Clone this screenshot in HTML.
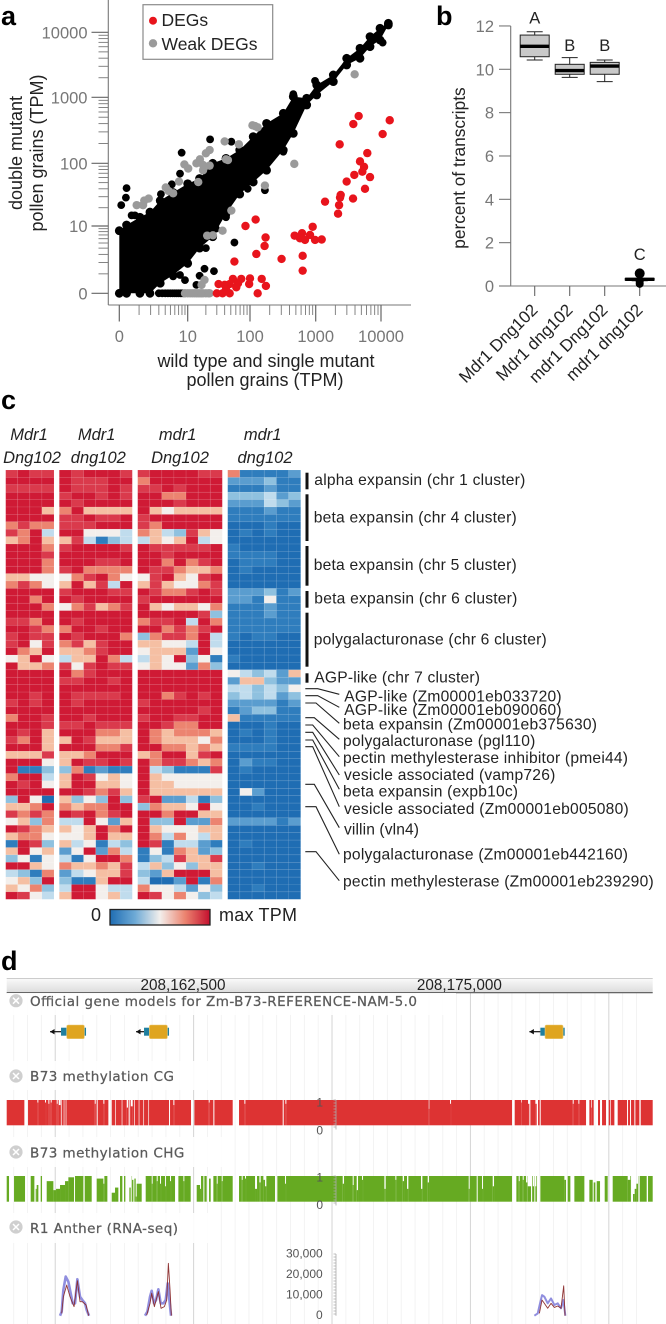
<!DOCTYPE html>
<html lang="en">
<head>
<meta charset="utf-8">
<title>Pollen transcriptome figure</title>
<style>
html,body{margin:0;padding:0;background:#fff;width:666px;height:1324px;overflow:hidden}
svg{display:block;filter:blur(0.35px)}
text{font-family:"Liberation Sans",Arial,sans-serif}
.tick{fill:#777;font-size:16.5px}
.title{fill:#222;font-size:18px}
.title-b{fill:#222;font-size:17.3px}
.panel{fill:#000;font-size:27px;font-weight:bold}
.head{fill:#222;font-size:16.5px;font-style:italic;text-anchor:middle}
.ann{fill:#222;font-size:15.6px}
.leader{fill:none;stroke:#222;stroke-width:1.1}
.track{font-family:"DejaVu Sans","Liberation Sans",sans-serif;fill:#5a5a5a;font-size:13.5px;stroke:#5a5a5a;stroke-width:.25}
.scale{fill:#555;font-size:12px;text-anchor:end}
</style>
</head>
<body>
<svg id="fig" xmlns="http://www.w3.org/2000/svg" width="666" height="1324" viewBox="0 0 666 1324">
  <rect width="666" height="1324" fill="#fff"/>
  <text class="panel" x="1" y="25">a</text>
  <text class="panel" x="436" y="25">b</text>
  <text class="panel" x="1" y="409">c</text>
  <text class="panel" x="1" y="970">d</text>

  <g id="scatter"></g>
  <text class="title" transform="translate(22 153) rotate(-90)" text-anchor="middle">double mutant</text>
  <text class="title" transform="translate(43 153) rotate(-90)" text-anchor="middle">pollen grains (TPM)</text>
  <text class="title" x="266" y="367" text-anchor="middle">wild type and single mutant</text>
  <text class="title" x="265" y="386" text-anchor="middle">pollen grains (TPM)</text>
  <g>
    <rect x="143" y="4.7" width="129.7" height="54.6" fill="#fff" stroke="#8a8a8a" stroke-width="1.2"/>
    <circle cx="153" cy="20.7" r="4" fill="#e8141c"/>
    <text x="161.5" y="26" font-size="17.5" fill="#222">DEGs</text>
    <circle cx="153" cy="43.3" r="4.2" fill="#9a9a9a"/>
    <text x="161.5" y="50" font-size="17.5" fill="#222">Weak DEGs</text>
  </g>

  <g id="box"></g>
  <text class="title-b" transform="translate(465 168) rotate(-90)" text-anchor="middle">percent of transcripts</text>

  <g>
    <text class="head" x="29" y="440">Mdr1</text>
    <text class="head" x="32" y="463">Dng102</text>
    <text class="head" x="96.7" y="440">Mdr1</text>
    <text class="head" x="98.3" y="463">dng102</text>
    <text class="head" x="177.7" y="440">mdr1</text>
    <text class="head" x="180" y="463">Dng102</text>
    <text class="head" x="262.7" y="440">mdr1</text>
    <text class="head" x="265" y="463">dng102</text>
  </g>
  <g id="heat"></g>

  <defs>
    <linearGradient id="cbar" x1="0" x2="1" y1="0" y2="0">
      <stop offset="0" stop-color="#1f6db3"/><stop offset=".25" stop-color="#6eaad6"/>
      <stop offset=".5" stop-color="#f3efec"/><stop offset=".75" stop-color="#ec8470"/>
      <stop offset="1" stop-color="#c40f2e"/>
    </linearGradient>
    <linearGradient id="ruler" x1="0" x2="0" y1="0" y2="1">
      <stop offset="0" stop-color="#fafafa"/><stop offset="1" stop-color="#dcdcdc"/>
    </linearGradient>
  </defs>
  <g>
    <text x="91" y="921" font-size="18" fill="#222">0</text>
    <rect x="110" y="909.5" width="100" height="15.5" fill="url(#cbar)" stroke="#222" stroke-width="1.3"/>
    <text x="219" y="921" font-size="18" fill="#222" textLength="78">max TPM</text>
  </g>

  <g fill="#111">
    <rect x="305.5" y="472.7" width="3" height="16.6"/>
    <rect x="305.5" y="494.3" width="3" height="46.7"/>
    <rect x="305.5" y="546" width="3" height="39.7"/>
    <rect x="305.5" y="591" width="3" height="16.7"/>
    <rect x="305.5" y="612.7" width="3" height="54"/>
    <rect x="305.5" y="673.3" width="3" height="9.4"/>
  </g>
  <g>
    <text class="ann" x="314.3" y="485" textLength="211">alpha expansin (chr 1 cluster)</text>
    <text class="ann" x="313.7" y="522.3" textLength="203">beta expansin (chr 4 cluster)</text>
    <text class="ann" x="313.7" y="570" textLength="203">beta expansin (chr 5 cluster)</text>
    <text class="ann" x="314.3" y="603.7" textLength="203">beta expansin (chr 6 cluster)</text>
    <text class="ann" x="313.7" y="644.3" textLength="233">polygalacturonase (chr 6 cluster)</text>
    <text class="ann" x="314.3" y="682.3" textLength="165.7">AGP-like (chr 7 cluster)</text>
    <text class="ann" x="344.3" y="701.3" textLength="217.3">AGP-like (Zm00001eb033720)</text>
    <text class="ann" x="344.3" y="715" textLength="217.3">AGP-like (Zm00001eb090060)</text>
    <text class="ann" x="343" y="729.3" textLength="254">beta expansin (Zm00001eb375630)</text>
    <text class="ann" x="343" y="746" textLength="192.3">polygalacturonase (pgl110)</text>
    <text class="ann" x="343" y="763" textLength="285">pectin methylesterase inhibitor (pmei44)</text>
    <text class="ann" x="344" y="780" textLength="211.3">vesicle associated (vamp726)</text>
    <text class="ann" x="343" y="796.7" textLength="175">beta expansin (expb10c)</text>
    <text class="ann" x="344" y="814" textLength="284.7">vesicle associated (Zm00001eb005080)</text>
    <text class="ann" x="344" y="834.3" textLength="75">villin (vln4)</text>
    <text class="ann" x="343" y="859.7" textLength="285">polygalacturonase (Zm00001eb442160)</text>
    <text class="ann" x="343" y="886.7" textLength="310.7">pectin methylesterase (Zm00001eb239290)</text>
  </g>
  <g>
    <polyline class="leader" points="305.3,688.7 317.7,688.7 339.3,694.3"/>
    <polyline class="leader" points="305.3,695.7 317.7,695.7 339.3,707.3"/>
    <polyline class="leader" points="305.3,703 316,703 339.3,723.3"/>
    <polyline class="leader" points="305.3,717.7 314.3,717.7 339.3,739.3"/>
    <polyline class="leader" points="305.3,725 312.7,725 339.3,756.7"/>
    <polyline class="leader" points="305.3,732.3 312.7,732.3 339.3,775"/>
    <polyline class="leader" points="305.3,740 312.7,740 339.3,789.3"/>
    <polyline class="leader" points="305.3,746.7 312.7,746.7 339.3,806.7"/>
    <polyline class="leader" points="305.3,784.3 314.3,784.3 339.3,827.7"/>
    <polyline class="leader" points="305.3,806.7 316,806.7 339.3,854.3"/>
    <polyline class="leader" points="305.3,851.7 316,851.7 339.3,880.7"/>
  </g>

  <g id="browser"></g>
</svg>

<script>
/* ---------- panel a: scatter data (TPM) ---------- */
var cloudX    = [0,0.29,1.06,1.93,3.2,5.6,10,15.8,25.8,42,69,112,179,322,457,730,1036,1862,2980,4770,6790,9660,12950];
var cloudHigh = [8.3,10.4,14,17,26,35,48,58,100,119,159,254,404,573,1024,966,1549,2208,3981,5675,8570,11530,13740];
var cloudLow  = [0,0,0,0,0.43,0.92,1.9,4,6.5,16,33,51,78,159,285,765,1086,1742,3141,3981,6012,7620,12970];
var blackX = [23.4,51,7.9,0.29,0.26,0.07,0.54,0.73,92,169,57,19,27,15.8,5.6,7.4,9,14,42,29,20,10600,322,457,977,7.4,3.3,5.3,3,3.5,4,4.5,5,5.5,6,6.5,7,7.5,8,8.5,9];
var blackY = [231,213,145,41,29,22,15,15,40,38,5.1,1.4,1.2,0.87,0.83,0.92,0.6,0.35,14,9,4,6930,150,1120,1790,69,33,47,0,0,0,0,0,0,0,0,0,0,0,0,0];
var greyX = [3950,473,169,119,131,109,67,40,42,45,23,20,16,14,18,23,18,8.8,10.2,7.1,15,4.1,4.6,5.6,0.84,1.3,1.4,1.8,51,37,26,21,17,19,9,10,11,12,13,14,15,16,17,18,20,22,23];
var greyY = [2260,98,45,368,351,377,194,215,115,112,159,142,115,100,94,92,78,96,83,52,51,42,37,34,22,22,26,28,18,8.3,6.9,6.8,0.35,0.61,0,0,0,0,0,0,0,0,0,0,0,0,0];
var redX = [13600,10600,4550,3770,2330,6170,4770,5500,5180,3900,6790,2980,2415,2360,2280,5690,3730,1390,2200,900,479,620,820,577,688,977,1236,634,634,303,122,85,173,167,125,57,151,175,131,100,97,73,54,65,61,48,40,32,30,37,48,42];
var redY = [450,278,521,394,194,143,107,88,74,66,61,52,32,29,22,40,28,25,16,9.7,6.8,7.5,7,6.1,5.7,5.7,5.8,2.8,1.24,2.4,12.8,10,6.3,4.4,3.06,2.1,0.67,0.3,0,0.7,0.39,0.67,0.67,0.43,0.24,0.39,0.35,0.39,0,0,0,0.15];
var scatterTicks = [0,10,100,1000,10000];
var scatterTickLabels = ["0","10","100","1000","10000"];
var scatterMinorTicks = [1,2,3,4,5,6,7,8,9,20,30,40,50,60,70,80,90,200,300,400,500,600,700,800,900,2000,3000,4000,5000,6000,7000,8000,9000];

/* ---------- panel b: box plot data (percent) ---------- */
var boxCategories = ["Mdr1 Dng102","Mdr1 dng102","mdr1 Dng102","mdr1 dng102"];
var boxLetters = ["A","B","B","C"];
var boxLetterLevel = [12.12,10.84,10.84,1.2];
var boxHi  = [11.73,10.54,10.43,0.33];
var boxQ3  = [11.58,10.23,10.32,0.35];
var boxMed = [11.06,9.94,10.15,0.31];
var boxQ1  = [10.58,9.77,9.77,0.27];
var boxLo  = [10.43,9.63,9.43,0.24];
var boxOutlierGroup = [3,3,3];
var boxOutlierValue = [0.58,0.2,0.1];
var boxTicks = [0,2,4,6,8,10,12];

/* ---------- panel c: heatmap data (0 = low, 9 = max TPM) ---------- */
var heatGroup1 = ["8988","9999","8888","9999","9999","9996","9999","7877","8794","6796","9997","9998","9997","9997","6655","7875","9999","9979","9997","9999","8879","9987","8988","8958","9769","5695","9667","9999","9999","9999","9989","8989","9999","7998","9998","9896","8796","9996","6668","9995","9113","7994","9895","9999","3950","6679","8787","5637","9876","6775","1983","6956","3515","9965","4317","5639","6573","9854"];
var heatGroup2 = ["989998","988899","988898","899898","989999","796666","889889","888999","995554","684134","899998","999999","999889","897777","578975","696849","899988","989999","578678","999999","989999","799899","989997","786899","667899","466974","858988","978999","889989","999999","988889","989999","999999","998999","889888","999776","698666","999778","667999","698898","371211","698565","699665","998786","635393","767799","989789","449526","656979","556966","645143","259274","415997","766768","245668","311699","499544","699564"];
var heatGroup3 = ["8999988","7999999","8898999","9977999","9998999","9656666","8999999","8799999","7643865","4656945","9888889","9989999","9979789","9887667","5896589","6865578","9877898","8999999","9656657","9999983","7889497","9978789","3788794","6655494","5666295","4659351","5655273","9999999","9999999","9999999","9978989","8999999","9999989","8998899","9987799","9767776","9766657","9977676","6799689","9788767","9431118","9655555","9665555","9666666","8922413","3766595","9979966","9339227","9655566","9747546","9814421","1517623","1348668","4635366","3269996","4002917","7554253","9857534"];
var heatGroup4 = ["711112","222311","111211","333423","222432","111211","111111","000100","010100","000000","100000","111100","011100","010000","000000","000000","222312","221511","111211","111211","111111","111111","101100","000000","000000","100000","000000","543426","266322","443435","343423","222212","123311","611111","000100","010100","000100","111100","000000","021100","010000","000000","000000","052000","000000","001000","000000","222212","000000","000000","010000","000000","000000","001000","000000","000000","001000","000000"];
var heatPalette = ["#1f6db3","#2f7dbd","#5a9dcf","#8fc1df","#c0dced","#f3efec","#f5bfa3","#ec8470","#da3a4c","#cf1a35"];

/* ---------- panel d: genome browser data (positions in 15-bp bins from track start) ---------- */
var rulerBins = [529,1358];
var rulerLabels = ["208,162,500","208,175,000"];
var geneArrowStart = [130,388,1568];
var geneTeal5 = [163,412,1601];
var geneGoldStart = [180,428,1615];
var geneGoldEnd = [233,482,1669];
var geneTeal3 = [238,487,1674];

var cgStart = [53,92,115,125,132,150,156,164,171,177,264,270,290,305,325,345,360,366,372,382,396,410,425,487,500,553,606,620,678,713,828,836,1266,1330,1516,1543,1564,1568,1586,1590,1599,1698,1715,1738,1753,1761,1780,1798,1810,1823,1861,1870,1883,1898];
var cgWidth = [11,3,3,3,3,3,6,2,2,2,3,3,3,10,2,2,4,3,6,2,2,2,2,3,3,10,3,3,19,3,3,3,2,3,8,2,4,3,4,4,3,3,3,10,2,13,6,8,2,10,3,3,3,4];
var cgLevel = [0,.9,.9,.85,.9,.85,.8,0,0,0,.85,0,.85,0,0,0,.7,0,.75,0,0,0,0,0,.8,0,.9,0,0,.85,0,.85,.65,.85,0,.9,.85,0,.85,0,0,.85,.85,0,.7,0,0,0,0,0,0,0,0,0];

var chgStart = [7,55,83,87,90,95,106,120,140,148,160,175,185,202,230,255,270,290,302,315,325,335,347,356,368,372,376,380,383,387,390,405,435,450,460,475,490,505,530,552,570,580,590,600,607,612,630,645,678,705,715,745,758,770,775,805,835,1008,1038,1050,1066,1133,1166,1188,1201,1243,1263,1386,1410,1426,1458,1516,1536,1548,1558,1563,1573,1578,1583,1586,1591,1673,1678,1691,1733,1748,1758,1761,1766,1770,1780,1803,1863,1873,1879,1884,1889,1895,1920];
var chgWidth = [15,17,4,3,5,7,14,20,8,12,15,10,17,3,4,15,20,3,13,10,10,5,5,12,4,3,4,3,4,3,15,12,3,3,3,3,3,10,3,18,10,3,3,7,5,8,3,3,19,3,3,6,4,5,4,7,3,4,3,4,3,4,3,4,4,4,4,3,3,3,4,13,3,3,4,10,3,4,3,3,10,5,5,12,15,10,3,5,4,10,14,15,8,6,5,5,5,4,4];
var chgLevel = [0,0,0,.5,.65,0,0,.8,.45,.5,.65,.8,.95,0,0,0,.9,.7,0,.35,.55,0,0,0,.55,0,.85,0,.9,.2,.7,0,.7,.8,.7,.6,.8,0,.8,0,.65,.5,0,0,.9,0,.7,.8,0,.85,.9,.5,.75,.85,.6,0,.7,.7,.65,.45,.85,.5,.85,.8,.5,.5,.75,.5,0,.5,.6,0,.8,.85,.75,.6,0,.6,0,.6,0,.85,0,0,0,.85,0,.75,0,.8,0,0,.85,0,.3,.5,.7,0,0];

var rnaTicks = [0,10000,20000,30000];
var rnaTickLabels = ["0","10,000","20,000","30,000"];
var blue1Bins = [160,165,170,177,185,192,198,205,212,220,227,235,240,247];
var blue1Vals = [0,1950,12500,19000,16500,10900,6000,6000,17700,9200,7600,6000,2750,0];
var blue2Bins = [415,422,430,435,442,448,455,462,470,477,483,488,493];
var blue2Vals = [0,1950,9200,12100,6000,7600,12800,6000,6000,7600,15700,7600,0];
var blue3Bins = [1583,1593,1600,1606,1613,1623,1633,1643,1653,1663,1670,1676];
var blue3Vals = [0,1100,6000,10000,9200,6000,8400,5200,6000,3600,7600,0];
var red1Bins = [165,170,180,190,202,212,220,227,238,246];
var red1Vals = [1134,9200,14850,9200,4400,17000,6800,6800,5200,0];
var red2Bins = [420,430,435,443,455,463,473,480,485,490,494];
var red2Vals = [300,6000,10900,4400,11700,3600,4400,7600,25400,12500,0];
var red3Bins = [1598,1606,1613,1623,1633,1643,1653,1663,1671,1675];
var red3Vals = [1134,7600,6000,3600,6000,4000,4700,3600,14500,0];

/* ---------- helpers ---------- */
var NS = "http://www.w3.org/2000/svg";
function mk(parent, tag, attrs, txt) {
  var el = document.createElementNS(NS, tag);
  for (var k in attrs) el.setAttribute(k, attrs[k]);
  if (txt !== undefined) el.textContent = txt;
  parent.appendChild(el);
  return el;
}

/* axis functions for panel a: piecewise pseudo-log */
var xStops = [119.3,187.7,250,315.7,381];
var yStops = [293.3,226,163.3,97.3,32.3];
function pseudoLog(v, stops) {
  var t = Math.log10(Math.max(v,0) + 1);
  for (var i = 0; i < scatterTicks.length - 1; i++) {
    var a = Math.log10(scatterTicks[i] + 1), b = Math.log10(scatterTicks[i+1] + 1);
    if (t <= b || i === scatterTicks.length - 2) {
      return stops[i] + (t - a) / (b - a) * (stops[i+1] - stops[i]);
    }
  }
}
function sx(v) { return pseudoLog(v, xStops); }
function sy(v) { return pseudoLog(v, yStops); }

/* ---------- draw panel a ---------- */
(function () {
  var g = document.getElementById("scatter");
  var el, i;
  el = mk(g, "line", {x1:108.3,x2:108.3,y1:0,y2:305,stroke:"#777","stroke-width":1.1});
  
  
  el = mk(g, "line", {x1:108.3,x2:411,y1:305,y2:305,stroke:"#777","stroke-width":1.1});
  
  
  scatterMinorTicks.forEach(function (v) {
    var t = mk(g, "line", {x1:98.5,x2:108.3,y1:sy(v),y2:sy(v),stroke:"#777","stroke-width":0.9});
    
    
    var u = mk(g, "line", {x1:sx(v),x2:sx(v),y1:305,y2:315,stroke:"#777","stroke-width":0.9});
    
    
  });
  scatterTicks.forEach(function (v, k) {
    var t = mk(g, "line", {x1:91.5,x2:108.3,y1:sy(v),y2:sy(v),stroke:"#666","stroke-width":1.2});
    
    
    var u = mk(g, "line", {x1:sx(v),x2:sx(v),y1:305,y2:321.5,stroke:"#666","stroke-width":1.2});
    
    
    var a = mk(g, "text", {"class":"tick",x:87.5,y:sy(v)+6,"text-anchor":"end"}, scatterTickLabels[k]);
    
    
    var b = mk(g, "text", {"class":"tick",x:sx(v),y:342,"text-anchor":"middle"}, scatterTickLabels[k]);
    
    
  });
  var pts = [];
  for (i = 0; i < cloudX.length; i++) pts.push(sx(cloudX[i]) + "," + sy(cloudHigh[i]));
  for (i = cloudX.length - 1; i >= 0; i--) pts.push(sx(cloudX[i]) + "," + sy(cloudLow[i]));
  el = mk(g, "polygon", {points:pts.join(" "),fill:"#000"});
  
  
  for (i = 0; i < cloudX.length; i++) {
    var c1 = mk(g, "circle", {cx:sx(cloudX[i]),cy:sy(cloudHigh[i]),r:4.4,fill:"#000"});
    
    
    var c2 = mk(g, "circle", {cx:sx(cloudX[i]),cy:sy(cloudLow[i]),r:4.4,fill:"#000"});
    
    
  }
  blackX.forEach(function (v, k) {
    var c = mk(g, "circle", {cx:sx(v),cy:sy(blackY[k]),r:3.9,fill:"#000"});
    
    
  });
  greyX.forEach(function (v, k) {
    var c = mk(g, "circle", {cx:sx(v),cy:sy(greyY[k]),r:4.2,fill:"#9a9a9a"});
    
    
  });
  redX.forEach(function (v, k) {
    var c = mk(g, "circle", {cx:sx(v),cy:sy(redY[k]),r:4.2,fill:"#e8141c"});
    
    
  });
})();

/* ---------- draw panel b ---------- */
function by(v) { return 286 - v * 21.67; }
function bx(i) { return 534.7 + i * 35; }
(function () {
  var g = document.getElementById("box");
  var el;
  el = mk(g, "line", {x1:510.7,x2:510.7,y1:26,y2:286,stroke:"#777","stroke-width":1.1});
  
  
  el = mk(g, "line", {x1:499,x2:666,y1:286,y2:286,stroke:"#777","stroke-width":1.1});
  
  
  boxTicks.forEach(function (v) {
    var t = mk(g, "line", {x1:499,x2:510.7,y1:by(v),y2:by(v),stroke:"#777","stroke-width":1.1});
    
    
    var l = mk(g, "text", {"class":"tick",x:494,y:by(v)+6,"text-anchor":"end"}, String(v));
    
    
  });
  boxCategories.forEach(function (name, i) {
    var x = bx(i), w = 14.5;
    var t = mk(g, "line", {x1:x,x2:x,y1:286,y2:296,stroke:"#666","stroke-width":1.1});
    
    
    var l = mk(g, "text", {"font-size":17,fill:"#222","text-anchor":"end",
      transform:"translate(" + (x+4) + " 311) rotate(-45)"}, name);
    
    
    var wh = mk(g, "line", {x1:x,x2:x,y1:by(boxHi[i]),y2:by(boxLo[i]),stroke:"#222","stroke-width":1});
    
    
    var c1 = mk(g, "line", {x1:x-8,x2:x+8,y1:by(boxHi[i]),y2:by(boxHi[i]),stroke:"#222","stroke-width":1});
    
    
    var c2 = mk(g, "line", {x1:x-8,x2:x+8,y1:by(boxLo[i]),y2:by(boxLo[i]),stroke:"#222","stroke-width":1});
    
    
    var b = mk(g, "rect", {x:x-w,y:by(boxQ3[i]),width:2*w,height:by(boxQ1[i])-by(boxQ3[i]),fill:"#c9c9c9",stroke:"#222","stroke-width":1});
    
    
    var m = mk(g, "line", {x1:x-w,x2:x+w,y1:by(boxMed[i]),y2:by(boxMed[i]),stroke:"#000","stroke-width":3.4});
    
    
    var s = mk(g, "text", {x:x,y:by(boxLetterLevel[i]),"font-size":16.5,fill:"#222","text-anchor":"middle"}, boxLetters[i]);
    
    
  });
  boxOutlierValue.forEach(function (v, k) {
    var c = mk(g, "circle", {cx:bx(boxOutlierGroup[k]),cy:by(v),r:v > 0.4 ? 5 : 4,fill:"#000"});
    
    
  });
})();

/* ---------- draw panel c ---------- */
(function () {
  var g = document.getElementById("heat");
  var groups = [
    {rows:heatGroup1, x0:5.7,   x1:54},
    {rows:heatGroup2, x0:59.3,  x1:132.3},
    {rows:heatGroup3, x0:137.7, x1:222.3},
    {rows:heatGroup4, x0:227.7, x1:300.7}
  ];
  var top = 470, bottom = 899.3;
  groups.forEach(function (gr) {
    var n = gr.rows.length, rh = (bottom - top) / n;
    gr.rows.forEach(function (row, r) {
      var cw = (gr.x1 - gr.x0) / row.length;
      for (var c = 0; c < row.length; c++) {
        var el = mk(g, "rect", {x:gr.x0 + c*cw,y:top + r*rh,width:cw,height:rh,
          fill:heatPalette[+row.charAt(c)],stroke:"#fff","stroke-opacity":0.12,"stroke-width":0.6});
        
        
      }
    });
  });
})();

/* ---------- draw panel d ---------- */
function gx(bin) { return 6.7 + bin / 3; }
function ry(v) { return 1315.7 - v * 0.00206; }
(function () {
  var g = document.getElementById("browser");
  var el, i;
  /* grid */
  for (i = 0; i < 46; i++) {
    var x = 13.7 + i * 13.84;
    var major = (i % 10 === 3);
    el = mk(g, "line", {x1:x,x2:x,y1:992,y2:1324,stroke:major ? "#d4d4d4" : "#f2f2f2","stroke-width":major ? 1 : 0.9});
    
    
  }
  /* ruler */
  el = mk(g, "rect", {x:6.7,y:978.3,width:646,height:14.4,fill:"url(#ruler)"});
  
  
  el = mk(g, "line", {x1:6.7,x2:652.7,y1:978.5,y2:978.5,stroke:"#bbb","stroke-width":0.8});
  
  
  el = mk(g, "line", {x1:6.7,x2:652.7,y1:992.7,y2:992.7,stroke:"#555","stroke-width":1.1});
  
  
  rulerBins.forEach(function (b, k) {
    var t = mk(g, "text", {x:gx(b),y:990,"font-size":15.3,fill:"#222","text-anchor":"middle"}, rulerLabels[k]);
    
    
  });
  /* track labels */
  var boxes = [
    ["Official gene models for Zm-B73-REFERENCE-NAM-5.0",993,22,449.3,1006,387,1000.7],
    ["B73 methylation CG",1061,29,205.3,1081,144,1076],
    ["B73 methylation CHG",1137,30,215.3,1157.3,154.3,1152],
    ["R1 Anther (RNA-seq)",1213,30,210.3,1233,148,1227]
  ];
  boxes.forEach(function (b) {
    var r = mk(g, "rect", {x:6.7,y:b[1],width:b[3],height:b[2],fill:"#fff","fill-opacity":0.9});
    
    
    var c = mk(g, "circle", {cx:16,cy:b[6],r:6.6,fill:"#cfcfcf"});
    
    
    var p = mk(g, "path", {d:"M13 "+(b[6]-3)+"l6 6M19 "+(b[6]-3)+"l-6 6",stroke:"#fff","stroke-width":1.5,fill:"none"});
    
    
    var t = mk(g, "text", {"class":"track",x:30,y:b[4],textLength:b[5]}, b[0]);
    
    
  });
  /* gene models */
  geneGoldStart.forEach(function (s, k) {
    var a = mk(g, "path", {d:"M"+gx(geneArrowStart[k])+" 1031.7L"+gx(geneTeal5[k])+" 1031.7",stroke:"#111","stroke-width":1.2});
    
    
    var h = mk(g, "polygon", {points:gx(geneArrowStart[k])+",1031.7 "+(gx(geneArrowStart[k])+4.5)+",1029 "+(gx(geneArrowStart[k])+4.5)+",1034.4",fill:"#111"});
    
    
    var u = mk(g, "rect", {x:gx(geneTeal5[k]),y:1027.7,width:gx(s)-gx(geneTeal5[k]),height:8,fill:"#1f7f9f"});
    
    
    var e = mk(g, "rect", {x:gx(geneGoldEnd[k]),y:1027.7,width:gx(geneTeal3[k])-gx(geneGoldEnd[k]),height:8,fill:"#1f7f9f"});
    
    
    var r = mk(g, "rect", {x:gx(s),y:1025,width:gx(geneGoldEnd[k])-gx(s),height:13.7,rx:1.5,fill:"#dfa520",stroke:"#eccb78","stroke-width":0.6});
    
    
  });
  /* methylation tracks */
  function drawTrack(starts, widths, levels, y0, h, color, name) {
    var total = 1938, order = starts.map(function (_, k) { return k; }).sort(function (p, q) { return starts[p] - starts[q]; });
    var cur = 0;
    function bar(a, b, lv) {
      if (b <= a || lv <= 0) return;
      var r = mk(g, "rect", {x:gx(a),y:y0 + h*(1-lv),width:(b-a)/3,height:h*lv,fill:color});
      
      
    }
    order.forEach(function (k) {
      var s = Math.max(starts[k], cur), e = starts[k] + widths[k];
      if (starts[k] > cur) bar(cur, starts[k], 1);
      if (e > s) { bar(s, e, levels[k]); cur = e; }
    });
    bar(cur, total, 1);
  }
  drawTrack(cgStart, cgWidth, cgLevel, 1100, 25.3, "#dd3333", "cg-methylation-bar");
  drawTrack(chgStart, chgWidth, chgLevel, 1176, 25.7, "#66aa22", "chg-methylation-bar");
  /* scale axes */
  function scaleAxis(top, bot, name) {
    var d = "M336 "+top+"L336 "+bot;
    for (var y = top; y <= bot + 0.1; y += 3) d += "M333.5 "+y+"L336 "+y;
    var a = mk(g, "path", {d:d,stroke:"#aaa","stroke-width":0.8,fill:"none"});
    
    
  }
  scaleAxis(1100, 1129.5, 'cg-scale-axis');
  scaleAxis(1176, 1205.5, 'chg-scale-axis');
  scaleAxis(1254, 1315.7, 'rna-scale-axis');
  [["1",1106.7],["0",1134.3],["1",1181.7],["0",1209]].forEach(function (p) {
    var t = mk(g, "text", {"class":"scale",x:323,y:p[1]}, p[0]);
    
    
  });
  rnaTicks.forEach(function (v, k) {
    var t = mk(g, "text", {"class":"scale",x:322.7,y:ry(v)+3.5}, rnaTickLabels[k]);
    
    
  });
  /* RNA-seq coverage */
  function trace(bins, vals, color, width, opacity, name) {
    var pts = bins.map(function (b, k) { return gx(b) + "," + ry(vals[k]); }).join(" ");
    var p = mk(g, "polyline", {points:pts,fill:"none",stroke:color,"stroke-width":width,"stroke-opacity":opacity,"stroke-linejoin":"round"});
    
    
  }
  trace(blue1Bins, blue1Vals, "#7c7ad8", 2.6, 0.85, 'rna-replicate-blue-peak-1');
  trace(blue2Bins, blue2Vals, "#7c7ad8", 2.6, 0.85, 'rna-replicate-blue-peak-2');
  trace(blue3Bins, blue3Vals, "#7c7ad8", 2, 0.85, 'rna-replicate-blue-peak-3');
  trace(red1Bins, red1Vals, "#8a2a2a", 0.9, 0.95, 'rna-replicate-red-peak-1');
  trace(red2Bins, red2Vals, "#8a2a2a", 0.9, 0.95, 'rna-replicate-red-peak-2');
  trace(red3Bins, red3Vals, "#8a2a2a", 0.9, 0.95, 'rna-replicate-red-peak-3');
})();
</script>
</body>
</html>
